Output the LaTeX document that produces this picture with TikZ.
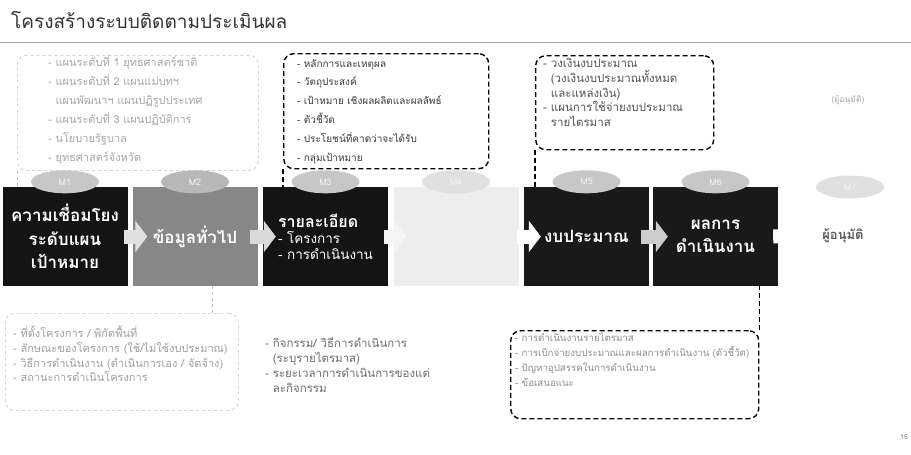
\documentclass[tikz,border=0pt]{standalone}
\usepackage{fontspec}
\setmainfont[Script=Thai]{Loma}
\usetikzlibrary{shapes.geometric,arrows.meta}

\begin{document}
\begin{tikzpicture}[x=1pt,y=-1pt,
    every node/.style={inner sep=0pt},
    stage/.style={rectangle,minimum width=125pt,minimum height=99pt,text=white,align=center,font=\fontsize{17}{23.5}\selectfont\bfseries},
    tag/.style={ellipse,minimum width=68pt,minimum height=23pt,fill=black!22,text=black!5,font=\fontsize{9}{9}\selectfont},
    flow/.style={line width=14pt,-{Triangle[width=31pt,length=12pt]}},
    softbox/.style={draw=black!25,dashed,line width=0.6pt,rounded corners=9pt,anchor=north west},
    hardbox/.style={draw=black,line width=1.4pt,dash pattern=on 5pt off 3pt,rounded corners=10pt,anchor=north west},
    softlink/.style={draw=black!25,dashed,line width=0.6pt},
    hardlink/.style={draw=black,line width=1.4pt,dash pattern=on 5pt off 3pt},
    memo/.style={anchor=north west,align=left}]
  \useasboundingbox (0,0) rectangle (911,455);

  \node[anchor=west,text=black!80,font=\fontsize{19}{19}\selectfont] (title) at (11,20) {โครงสร้างระบบติดตามประเมินผล};
  \draw[black!35,line width=0.7pt] (0,42) -- (911,42);

  \node[stage,fill=black!92] (b1) at (65,236.5) {ความเชื่อมโยง\\ระดับแผน\\เป้าหมาย};
  \node[stage,fill=black!47] (b2) at (195,236.5) {ข้อมูลทั่วไป};
  \node[stage,fill=black!92,align=left,font=\fontsize{16}{16}\selectfont\bfseries] (b3) at (325.5,236.5) {รายละเอียด\\{\fontsize{13.5}{16}\selectfont\mdseries - โครงการ}\\{\fontsize{13.5}{16}\selectfont\mdseries - การดำเนินงาน}};
  \node[stage,fill=black!7] (b4) at (456,236.5) {};
  \node[stage,fill=black!90] (b5) at (586.5,236.5) {งบประมาณ};
  \node[stage,fill=black!90] (b6) at (715.5,236.5) {ผลการ\\ดำเนินงาน};
  \node[text=black!65,font=\fontsize{13}{13}\selectfont\bfseries] (approver) at (843,236) {ผู้อนุมัติ};

  \draw[flow,black!12] ([xshift=-4pt]b1.east) -- ([xshift=15pt]b2.west);
  \draw[flow,black!15] ([xshift=-8pt]b2.east) -- ([xshift=13pt]b3.west);
  \draw[flow,black!4] ([xshift=-4pt]b3.east) -- ([xshift=13pt]b4.west);
  \draw[flow,white] ([xshift=-2pt]b4.east) -- ([xshift=17pt]b5.west);
  \draw[flow,black!20] ([xshift=-8pt]b5.east) -- ([xshift=15pt]b6.west);
  \draw[flow,white] ([xshift=-5pt]b6.east) -- ([xshift=-12pt]approver.west);

  \node[tag] (m1) at ([yshift=5pt]b1.north) {M1};
  \node[tag,fill=black!28] (m2) at ([yshift=5pt]b2.north) {M2};
  \node[tag] (m3) at ([yshift=5pt]b3.north) {M3};
  \node[tag,fill=black!12] (m4) at ([yshift=5pt]b4.north) {M4};
  \node[tag] (m5) at ([yshift=5pt]b5.north) {M5};
  \node[tag] (m6) at ([yshift=5pt]b6.north) {M6};
  \node[tag,fill=black!12] (m7) at (850,187) {M7};
  \node[text=black!35,font=\fontsize{8.5}{8.5}\selectfont] (approvernote) at (848,100) {(ผู้อนุมัติ)};

  \node[softbox,minimum width=241pt,minimum height=115pt] (plans) at (17,55) {};
  \node[memo,text=black!35,font=\fontsize{11}{19}\selectfont] (planstext) at (48,55) {- แผนระดับที่ 1 ยุทธศาสตร์ชาติ\\- แผนระดับที่ 2 แผนแม่บทฯ\\\phantom{- }แผนพัฒนาฯ แผนปฏิรูปประเทศ\\- แผนระดับที่ 3 แผนปฏิบัติการ\\- นโยบายรัฐบาล\\- ยุทธศาสตร์จังหวัด};
  \node[hardbox,minimum width=205pt,minimum height=115pt] (detail) at (283,53) {};
  \node[memo,text=black!78,font=\fontsize{10}{18.8}\selectfont] (detailtext) at (297,59) {- หลักการและเหตุผล\\- วัตถุประสงค์\\- เป้าหมาย เชิงผลผลิตและผลลัพธ์\\- ตัวชี้วัด\\- ประโยชน์ที่คาดว่าจะได้รับ\\- กลุ่มเป้าหมาย};
  \node[hardbox,minimum width=178pt,minimum height=94pt] (budget) at (535,55) {};
  \node[memo,text=black!68,font=\fontsize{11.5}{14.8}\selectfont] (budgettext) at (543,58) {- วงเงินงบประมาณ\\\phantom{- }(วงเงินงบประมาณทั้งหมด\\\phantom{- }และแหล่งเงิน)\\- แผนการใช้จ่ายงบประมาณ\\\phantom{- }รายไตรมาส};

  \node[softbox,minimum width=233pt,minimum height=97pt] (general) at (5,313) {};
  \node[memo,text=black!38,font=\fontsize{11}{14.7}\selectfont] (generaltext) at (13,326) {- ที่ตั้งโครงการ / พิกัดพื้นที่\\- ลักษณะของโครงการ (ใช้/ไม่ใช้งบประมาณ)\\- วิธีการดำเนินงาน (ดำเนินการเอง / จัดจ้าง)\\- สถานะการดำเนินโครงการ};
  \node[memo,text=black!58,font=\fontsize{11.5}{15}\selectfont] (activity) at (265,338) {- กิจกรรม/ วิธีการดำเนินการ\\\phantom{- }(ระบุรายไตรมาส)\\- ระยะเวลาการดำเนินการของแต่\\\phantom{- }ละกิจกรรม};
  \node[hardbox,minimum width=248pt,minimum height=88pt] (result) at (510,330) {};
  \node[memo,text=black!45,font=\fontsize{9.7}{14.7}\selectfont] (resulttext) at (515,333) {- การดำเนินงานรายไตรมาส\\- การเบิกจ่ายงบประมาณและผลการดำเนินงาน (ตัวชี้วัด)\\- ปัญหาอุปสรรคในการดำเนินงาน\\- ข้อเสนอแนะ};
  \node[text=black!55,font=\fontsize{6.5}{6.5}\selectfont] (pageno) at (904,437) {15};

  \coordinate (genjoin) at ([xshift=17pt]b2.south);
  \draw[softlink] (plans.south west) -- (plans.south west |- b1.north);
  \draw[softlink] (genjoin) -- (genjoin |- general.north);
  \draw[hardlink] (detail.south west) -- (detail.south west |- b3.north);
  \draw[hardlink] (budget.south west) -- (budget.south west |- b5.north);
  \draw[hardlink] (result.north east) -- (result.north east |- b6.south);
\end{tikzpicture}
\end{document}
